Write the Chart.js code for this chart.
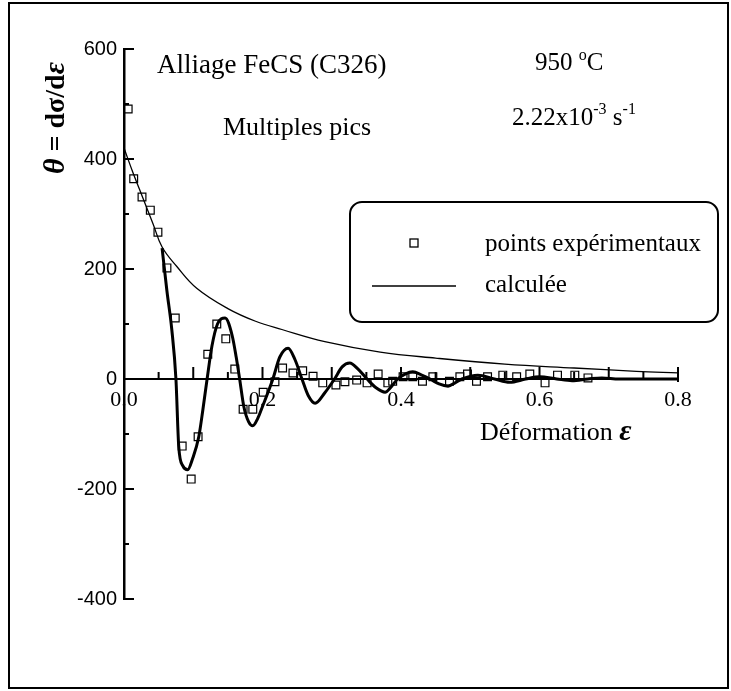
<!DOCTYPE html>
<html><head><meta charset="utf-8">
<script src="https://cdn.jsdelivr.net/npm/chart.js@4"></script>
<style>html,body{margin:0;padding:0;background:#fff;}canvas{display:block;}</style>
</head><body>
<canvas id="c" width="731" height="691"></canvas>
<script>
// ---- data ----
const expX = [0.006,0.014,0.026,0.038,0.049,0.062,0.074,0.084,0.097,0.107,0.121,0.134,0.147,0.160,0.172,0.186,0.201,0.218,0.229,0.244,0.258,0.273,0.287,0.306,0.319,0.336,0.351,0.367,0.381,0.388,0.403,0.417,0.431,0.446,0.470,0.485,0.496,0.509,0.525,0.547,0.567,0.586,0.608,0.626,0.651,0.670];
const expY = [491,364,331,307,267,202,111,-122,-182,-105,45,100,73,18,-55,-55,-24,-5,20,11,15,5,-7,-11,-5,-2,-7,9,-7,-4,4,4,-4,4,-4,4,9,-4,4,7,4,9,-7,7,7,2];

const calcX = [0.055,0.062,0.069,0.075,0.079,0.085,0.092,0.099,0.108,0.114,0.120,0.127,0.135,0.146,0.156,0.162,0.167,0.173,0.180,0.186,0.193,0.200,0.215,0.225,0.237,0.247,0.257,0.266,0.276,0.290,0.304,0.315,0.326,0.338,0.351,0.364,0.377,0.386,0.395,0.406,0.417,0.430,0.442,0.455,0.468,0.478,0.488,0.511,0.535,0.557,0.580,0.600,0.625,0.647,0.670,0.690,0.715,0.800];
const calcY = [238,160,90,0,-122,-158,-165,-145,-105,-55,0,60,100,111,80,40,0,-50,-78,-85,-72,-50,0,40,56,35,0,-30,-44,-25,0,22,29,18,0,-16,-24,-14,0,9,13,7,0,-9,-13,-7,0,7,0,-6,0,4,0,-3,0,2,0,0];

const envX = [0,0.013,0.027,0.042,0.055,0.076,0.105,0.150,0.190,0.228,0.290,0.370,0.450,0.550,0.650,0.740,0.800];
const envY = [420,375,330,282,240,205,165,128,105,90,68,49,38,27,20,14,11];

const xTickLabels = ['0.0','0.2','0.4','0.6','0.8'];
const yTickLabels = ['-400','-200','0','200','400','600'];
const legendLabels = ['points expérimentaux','calculée'];

const pts = (xs, ys) => xs.map((x,i)=>({x, y: ys[i]}));

function runs(ctx, x, y, list){
  let cx = x;
  for(const r of list){
    ctx.font = r.f;
    ctx.fillText(r.t, cx, y + (r.dy||0));
    cx += ctx.measureText(r.t).width + (r.gap||0);
  }
  return cx;
}

const serif = "'Liberation Serif','Times New Roman',serif";

const deco = {
  id:'deco',
  afterDraw(chart){
    const ctx = chart.ctx, xs = chart.scales.x, ys = chart.scales.y;
    ctx.save();
    ctx.strokeStyle = '#000'; ctx.fillStyle = '#000';
    // outer frame
    ctx.lineWidth = 2;
    ctx.strokeRect(9, 3, 719, 685);
    // y ticks (inward)
    const ax = xs.left;
    ctx.lineWidth = 2;
    for(let v = -400; v <= 600; v += 100){
      const p = ys.getPixelForValue(v);
      const major = (v % 200) === 0;
      ctx.beginPath(); ctx.moveTo(ax, p); ctx.lineTo(ax + (major ? 10 : 5), p); ctx.stroke();
    }
    // x ticks (upward)
    const y0 = ys.getPixelForValue(0);
    for(let i = 0; i <= 16; i++){
      const p = xs.getPixelForValue(i * 0.05);
      const major = i % 2 === 0;
      ctx.beginPath(); ctx.moveTo(p, y0); ctx.lineTo(p, y0 - (major ? 12 : 7)); ctx.stroke();
    }
    const pe = xs.getPixelForValue(0.8);
    ctx.beginPath(); ctx.moveTo(pe, y0 - 12); ctx.lineTo(pe, y0 + 3); ctx.stroke();

    ctx.textBaseline = 'alphabetic'; ctx.textAlign = 'left';
    // y axis title (rotated)
    ctx.save();
    ctx.translate(64, 174);
    ctx.rotate(-Math.PI/2);
    runs(ctx, 0, 0, [
      {t:'\u03B8', f:"bold italic 30px "+serif},
      {t:' = d\u03C3/d', f:"bold 28px "+serif},
      {t:'\u03B5', f:"bold italic 30px "+serif}
    ]);
    ctx.restore();
    // x axis title
    runs(ctx, 480, 440, [
      {t:'Déformation ', f:"26px "+serif},
      {t:'\u03B5', f:"bold italic 30px "+serif}
    ]);
    // annotations
    ctx.font = "27px "+serif;
    ctx.fillText('Alliage FeCS (C326)', 157, 73);
    ctx.font = "26px "+serif;
    ctx.fillText('Multiples pics', 223, 135);
    runs(ctx, 535, 70, [
      {t:'950 ', f:"25px "+serif},
      {t:'o', f:"16px "+serif, dy:-10},
      {t:'C', f:"25px "+serif}
    ]);
    runs(ctx, 512, 125, [
      {t:'2.22x10', f:"25px "+serif},
      {t:'-3', f:"16px "+serif, dy:-11},
      {t:' s', f:"25px "+serif},
      {t:'-1', f:"16px "+serif, dy:-11}
    ]);
    // legend box
    ctx.lineWidth = 2;
    ctx.beginPath();
    if (ctx.roundRect) ctx.roundRect(350, 202, 368, 120, 12); else ctx.rect(350, 202, 368, 120);
    ctx.stroke();
    ctx.lineWidth = 1.3;
    ctx.strokeRect(410, 239, 8, 8);
    ctx.beginPath(); ctx.moveTo(372, 286); ctx.lineTo(456, 286); ctx.stroke();
    ctx.font = "25px "+serif;
    ctx.fillText(legendLabels[0], 485, 251);
    ctx.fillText(legendLabels[1], 485, 292);
    ctx.restore();
  }
};

new Chart(document.getElementById('c'), {
  type: 'scatter',
  data: {
    datasets: [
      { label: legendLabels[1], data: pts(envX, envY), showLine: true, borderColor: '#000', borderWidth: 1.3, pointRadius: 0, tension: 0.4, fill: false },
      { label: legendLabels[1], data: pts(calcX, calcY), showLine: true, borderColor: '#000', borderWidth: 3, pointRadius: 0, cubicInterpolationMode: 'monotone', fill: false },
      { label: legendLabels[0], data: pts(expX, expY), showLine: false, pointStyle: 'rect', pointRadius: 5.5, borderColor: '#000', borderWidth: 1.2, backgroundColor: 'rgba(255,255,255,0)' }
    ]
  },
  options: {
    responsive: false, animation: false,
    layout: { padding: { top: 49, right: 53, bottom: 92, left: 0 } },
    plugins: { legend: { display: false }, tooltip: { enabled: false } },
    scales: {
      x: {
        type: 'linear', min: 0, max: 0.8, position: { y: 0 },
        ticks: { stepSize: 0.2, maxRotation: 0, autoSkip: false, callback: (v, i) => xTickLabels[i], font: { family: serif, size: 22 }, color: '#000', padding: 8 },
        grid: { display: false, drawTicks: false },
        border: { display: true, color: '#000', width: 2 },
        afterFit(s){ s.height = 0; }
      },
      y: {
        type: 'linear', min: -400, max: 600,
        ticks: { stepSize: 200, callback: (v, i) => yTickLabels[i], font: { family: "'Liberation Sans',Arial,sans-serif", size: 20 }, color: '#000', padding: 7 },
        grid: { display: false, drawTicks: false },
        border: { display: true, color: '#000', width: 2.5 },
        afterFit(s){ s.width = 124; }
      }
    }
  },
  plugins: [deco]
});
</script>
</body></html>
